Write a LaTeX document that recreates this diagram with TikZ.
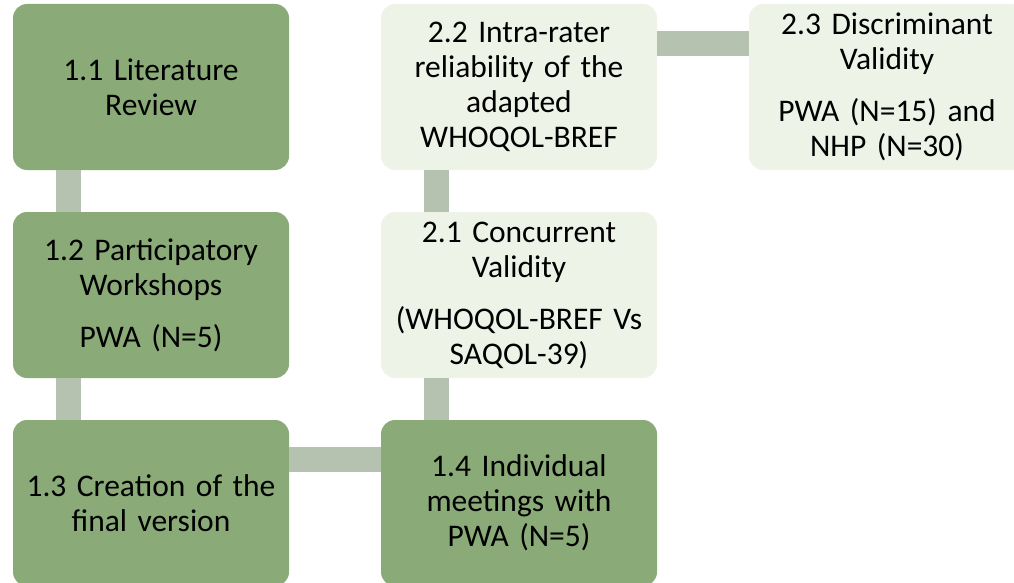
\documentclass[tikz,border=0pt]{standalone}
\usepackage{fontspec}
\setmainfont{Carlito}
\definecolor{darkgreen}{HTML}{8AAB78}
\definecolor{lightgreen}{HTML}{EDF4E7}
\definecolor{linkgray}{HTML}{B5C2B0}
\begin{document}
\begin{tikzpicture}[x=1pt,y=-1pt]
    \tikzstyle{stage}=[rectangle,rounded corners=14pt,fill=darkgreen,minimum width=276pt,minimum height=166pt,
        inner sep=0pt,text width=270pt,align=center,font=\fontsize{31.5}{35}\selectfont]
    \tikzstyle{check}=[stage,fill=lightgreen]
    \tikzstyle{link}=[draw=linkgray,line width=25pt]
    \useasboundingbox (0,0) rectangle (1014,583);
    \clip (0,0) rectangle (1014,583);

    \node[stage] (lit)   at (151,87)  {1.1 Literature\\Review};
    \node[stage] (work)  at (151,295) {1.2 Participatory\\Workshops\\[17pt]PWA (N=5)};
    \node[stage] (final) at (151,503) {1.3 Creation of the\\final version};
    \node[stage] (meet)  at (519,503) {1.4 Individual\\meetings with\\PWA (N=5)};
    \node[check] (conc)  at (519,295) {2.1 Concurrent\\Validity\\[17pt](WHOQOL-BREF Vs\\SAQOL-39)};
    \node[check] (intra) at (519,87)  {2.2 Intra-rater\\reliability of the\\adapted\\WHOQOL-BREF};
    \node[check] (disc)  at (887,87)  {2.3 Discriminant\\Validity\\[17pt]PWA (N=15) and\\NHP (N=30)};

    \foreach \from/\to in {lit/work, work/final, intra/conc, conc/meet}
        \draw[link] ([xshift=56pt]\from.south west) -- ([xshift=56pt]\to.north west);
    \foreach \from/\to in {final/meet, intra/disc}
        \draw[link] ([yshift=-40pt]\from.north east) -- ([yshift=-40pt]\to.north west);
\end{tikzpicture}
\end{document}
